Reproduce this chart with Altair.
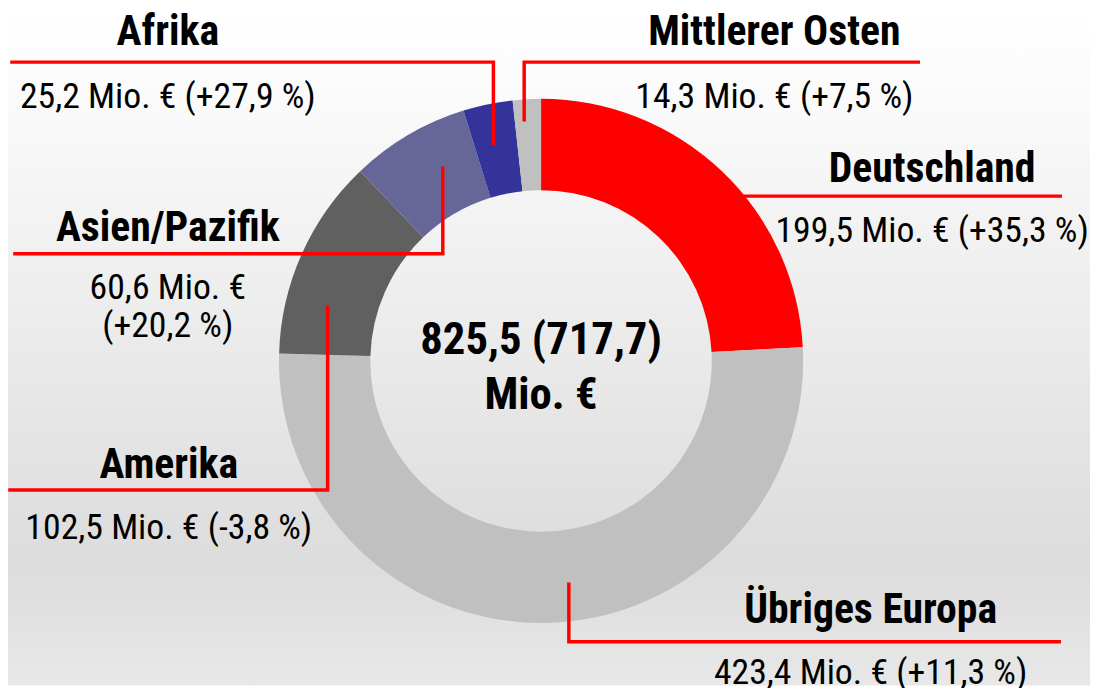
import altair as alt
import pandas as pd

# ---------------- data ----------------
regions = ["Deutschland", "Übriges Europa", "Amerika", "Asien/Pazifik", "Afrika", "Mittlerer Osten"]
revenue = [199.5, 423.4, 102.5, 60.6, 25.2, 14.3]          # Mio. €
change_pct = [35.3, 11.3, -3.8, 20.2, 27.9, 7.5]            # % vs. previous year
total_current = 825.5
total_previous = 717.7

# ---------------- styles / layout ----------------
colors = ["#FF0000", "#C0C0C0", "#606060", "#666699", "#333399", "#C0C0C0"]
FONT = "Roboto Condensed"
W, H = 1090, 680
CENTER = (545, 361)
R_OUT, R_IN = 264, 172

# label anchor (center x, title baseline, value baseline) and leader polylines, in picture pixels
layout = {
    "Deutschland":     dict(x=939, ty=181, vy=241, wrap=False, leader=[(735, 195), (1068, 195)]),
    "Übriges Europa":  dict(x=877, ty=625, vy=686, wrap=False, leader=[(1067, 644), (573, 644), (573, 586)]),
    "Amerika":         dict(x=170, ty=479, vy=540, wrap=False, leader=[(10, 491), (330, 491), (330, 307)]),
    "Asien/Pazifik":   dict(x=169, ty=240, vy=299, wrap=True,  leader=[(15, 253), (446, 253), (446, 167)]),
    "Afrika":          dict(x=169, ty=43,  vy=106, wrap=False, leader=[(12, 60), (497, 60), (497, 142)]),
    "Mittlerer Osten": dict(x=780, ty=43,  vy=106, wrap=False, leader=[(925, 60), (528, 60), (528, 118)]),
}


def de(v):
    return f"{v:.1f}".replace(".", ",")


def de_sign(v):
    return f"{v:+.1f}".replace(".", ",")


slices = pd.DataFrame({"region": regions, "value": revenue, "order": list(range(len(regions)))})

label_rows = []
leader_rows = []
for reg, val, chg in zip(regions, revenue, change_pct):
    lay = layout[reg]
    sep = "\n" if lay["wrap"] else " "
    label_rows.append({
        "region": reg,
        "x": lay["x"],
        "ty": lay["ty"],
        "vy": lay["vy"],
        "value_text": f"{de(val)} Mio. €{sep}({de_sign(chg)} %)",
    })
    for i, (px, py) in enumerate(lay["leader"]):
        leader_rows.append({"region": reg, "i": i, "x": px, "y": py})

labels = pd.DataFrame(label_rows)
leaders = pd.DataFrame(leader_rows)
center = pd.DataFrame({
    "x": [CENTER[0], CENTER[0]],
    "y": [354, 409],
    "text": [f"{de(total_current)} ({de(total_previous)})", "Mio. €"],
})

xs = alt.Scale(domain=[8, 8 + W], nice=False, zero=False)
ys = alt.Scale(domain=[8, 8 + H], nice=False, zero=False, reverse=True)

background = alt.Chart(pd.DataFrame({"a": [0]})).mark_rect(
    color=alt.Gradient(
        gradient="linear",
        stops=[
            alt.GradientStop(color="#ffffff", offset=0),
            alt.GradientStop(color="#fbfbfb", offset=0.12),
            alt.GradientStop(color="#dcdcdc", offset=0.82),
            alt.GradientStop(color="#e8e8e8", offset=1),
        ],
        x1=0, x2=0, y1=0, y2=1,
    )
).encode(x=alt.value(0), x2=alt.value(W), y=alt.value(0), y2=alt.value(H))

donut = alt.Chart(slices).mark_arc(radius=R_OUT, radius2=R_IN).encode(
    theta=alt.Theta("value:Q", stack=True),
    order=alt.Order("order:Q"),
    color=alt.Color("region:N", scale=alt.Scale(domain=regions, range=colors), legend=None),
    x=alt.datum(CENTER[0], scale=xs, axis=None),
    y=alt.datum(CENTER[1], scale=ys, axis=None),
)

leader_lines = alt.Chart(leaders).mark_line(color="#FF0000", strokeWidth=3.5, strokeCap="square").encode(
    x=alt.X("x:Q", scale=xs, axis=None),
    y=alt.Y("y:Q", scale=ys, axis=None),
    detail="region:N",
    order="i:Q",
)

titles = alt.Chart(labels).mark_text(
    font=FONT, fontSize=42, fontWeight="bold", color="#000000", align="center", baseline="alphabetic"
).encode(
    x=alt.X("x:Q", scale=xs, axis=None),
    y=alt.Y("ty:Q", scale=ys, axis=None),
    text="region:N",
)

values = alt.Chart(labels).mark_text(
    font=FONT, fontSize=36, fontWeight="normal", color="#000000", align="center", baseline="alphabetic",
    lineBreak="\n", lineHeight=38,
).encode(
    x=alt.X("x:Q", scale=xs, axis=None),
    y=alt.Y("vy:Q", scale=ys, axis=None),
    text="value_text:N",
)

center_text = alt.Chart(center).mark_text(
    font=FONT, fontSize=45, fontWeight="bold", color="#000000", align="center", baseline="alphabetic"
).encode(
    x=alt.X("x:Q", scale=xs, axis=None),
    y=alt.Y("y:Q", scale=ys, axis=None),
    text="text:N",
)

chart = alt.layer(background, donut, leader_lines, titles, values, center_text).properties(
    width=W, height=H, padding=0, autosize=alt.AutoSizeParams(type="none")
).configure_view(stroke=None)

chart.save("out.html", embed_options={"renderer": "svg", "actions": False})
